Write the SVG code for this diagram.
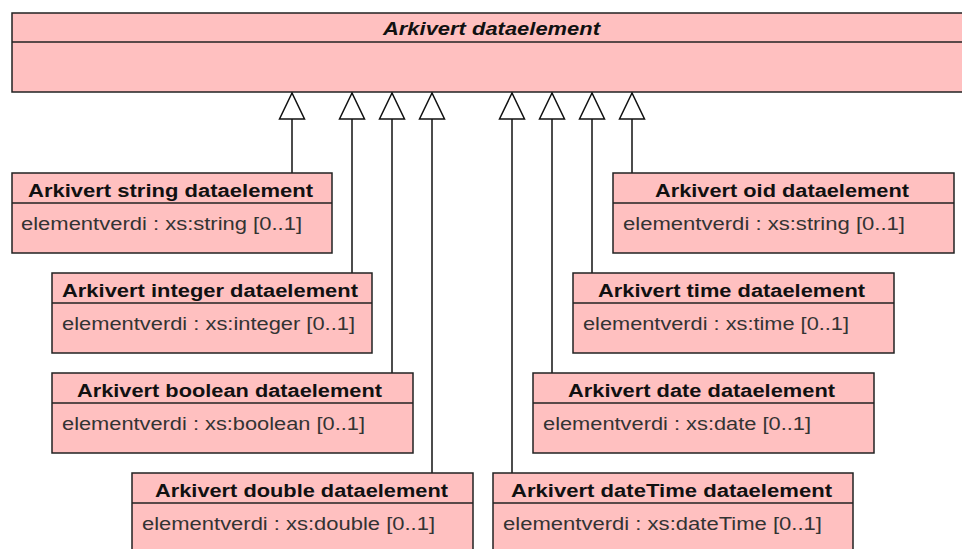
<svg xmlns="http://www.w3.org/2000/svg" width="962" height="549" viewBox="0 0 962 549">
<style>
.box{fill:#ffc0c0;stroke:#222;stroke-width:1.5}
.div{stroke:#222;stroke-width:1.5}
.hd{font-family:"Liberation Sans",Arial,sans-serif;font-weight:bold;font-size:17.5px;fill:#111}
.at{font-family:"Liberation Sans",Arial,sans-serif;font-size:17.5px;fill:#333}
.ti{font-family:"Liberation Sans",Arial,sans-serif;font-weight:bold;font-style:italic;font-size:17.5px;fill:#111}
.con{stroke:#111;stroke-width:1.5;fill:none}
</style>
<defs>
<marker id="gen" viewBox="0 0 28 28" refX="27" refY="14" markerWidth="28" markerHeight="28" markerUnits="userSpaceOnUse" orient="auto">
<path d="M27 14 L1 1.5 L1 26.5 Z" fill="#fff" stroke="#111" stroke-width="1.5"/>
</marker>
</defs>
<g id="parent">
<rect class="box" x="12" y="13" width="960" height="79"/>
<line class="div" x1="12" y1="42" x2="972" y2="42"/>
<text class="ti" x="383" y="35" textLength="217" lengthAdjust="spacingAndGlyphs">Arkivert dataelement</text>
</g>
<g id="connectors">
<path class="con" d="M292 173 V93" marker-end="url(#gen)"/>
<path class="con" d="M352 273 V93" marker-end="url(#gen)"/>
<path class="con" d="M392 373 V93" marker-end="url(#gen)"/>
<path class="con" d="M432 473 V93" marker-end="url(#gen)"/>
<path class="con" d="M512 473 V93" marker-end="url(#gen)"/>
<path class="con" d="M552 373 V93" marker-end="url(#gen)"/>
<path class="con" d="M592 273 V93" marker-end="url(#gen)"/>
<path class="con" d="M632 173 V93" marker-end="url(#gen)"/>
</g>
<g id="string">
<rect class="box" x="12" y="173" width="320" height="80"/>
<line class="div" x1="12" y1="203" x2="332" y2="203"/>
<text class="hd" x="28" y="197" textLength="285" lengthAdjust="spacingAndGlyphs">Arkivert string dataelement</text>
<text class="at" x="21" y="230" textLength="281" lengthAdjust="spacingAndGlyphs">elementverdi : xs:string [0..1]</text>
</g>
<g id="integer">
<rect class="box" x="52" y="273" width="320" height="80"/>
<line class="div" x1="52" y1="303" x2="372" y2="303"/>
<text class="hd" x="62" y="297" textLength="296" lengthAdjust="spacingAndGlyphs">Arkivert integer dataelement</text>
<text class="at" x="62" y="330" textLength="293" lengthAdjust="spacingAndGlyphs">elementverdi : xs:integer [0..1]</text>
</g>
<g id="boolean">
<rect class="box" x="52" y="373" width="361" height="80"/>
<line class="div" x1="52" y1="403" x2="413" y2="403"/>
<text class="hd" x="77" y="397" textLength="305" lengthAdjust="spacingAndGlyphs">Arkivert boolean dataelement</text>
<text class="at" x="62" y="430" textLength="303" lengthAdjust="spacingAndGlyphs">elementverdi : xs:boolean [0..1]</text>
</g>
<g id="double">
<rect class="box" x="132" y="473" width="341" height="90"/>
<line class="div" x1="132" y1="503" x2="473" y2="503"/>
<text class="hd" x="155" y="497" textLength="293" lengthAdjust="spacingAndGlyphs">Arkivert double dataelement</text>
<text class="at" x="142" y="530" textLength="293" lengthAdjust="spacingAndGlyphs">elementverdi : xs:double [0..1]</text>
</g>
<g id="oid">
<rect class="box" x="613" y="173" width="341" height="80"/>
<line class="div" x1="613" y1="203" x2="954" y2="203"/>
<text class="hd" x="655" y="197" textLength="254" lengthAdjust="spacingAndGlyphs">Arkivert oid dataelement</text>
<text class="at" x="623" y="230" textLength="282" lengthAdjust="spacingAndGlyphs">elementverdi : xs:string [0..1]</text>
</g>
<g id="time">
<rect class="box" x="573" y="273" width="321" height="80"/>
<line class="div" x1="573" y1="303" x2="894" y2="303"/>
<text class="hd" x="598" y="297" textLength="267" lengthAdjust="spacingAndGlyphs">Arkivert time dataelement</text>
<text class="at" x="583" y="330" textLength="266" lengthAdjust="spacingAndGlyphs">elementverdi : xs:time [0..1]</text>
</g>
<g id="date">
<rect class="box" x="533" y="373" width="341" height="80"/>
<line class="div" x1="533" y1="403" x2="874" y2="403"/>
<text class="hd" x="568" y="397" textLength="267" lengthAdjust="spacingAndGlyphs">Arkivert date dataelement</text>
<text class="at" x="543" y="430" textLength="268" lengthAdjust="spacingAndGlyphs">elementverdi : xs:date [0..1]</text>
</g>
<g id="datetime">
<rect class="box" x="493" y="473" width="360" height="90"/>
<line class="div" x1="493" y1="503" x2="853" y2="503"/>
<text class="hd" x="511" y="497" textLength="321" lengthAdjust="spacingAndGlyphs">Arkivert dateTime dataelement</text>
<text class="at" x="503" y="530" textLength="319" lengthAdjust="spacingAndGlyphs">elementverdi : xs:dateTime [0..1]</text>
</g>
</svg>
